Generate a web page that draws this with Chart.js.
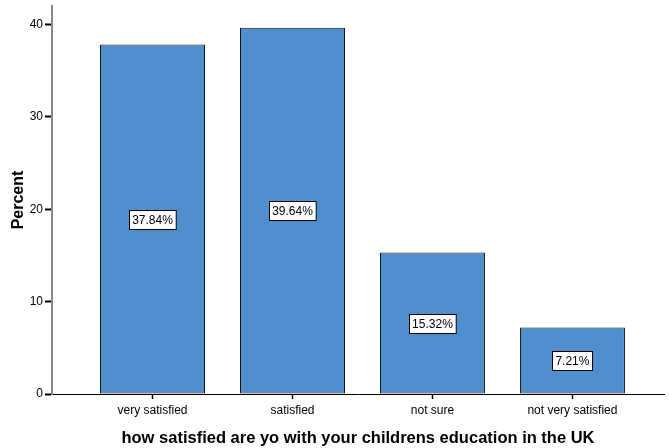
<!DOCTYPE html>
<html>
<head>
<meta charset="utf-8">
<script src="https://cdn.jsdelivr.net/npm/chart.js@4/dist/chart.umd.min.js"></script>
<style>
  html, body { margin: 0; padding: 0; background: #fff; }
  #wrap { width: 669px; height: 448px; }
</style>
</head>
<body>
<div id="wrap"><canvas id="chart"></canvas></div>
<script>
// satisfaction with childrens education — percent per answer
const categories = ['very satisfied', 'satisfied', 'not sure', 'not very satisfied'];
const percents = [37.84, 39.64, 15.32, 7.21];
const yTicks = [0, 10, 20, 30, 40];

const FONT = '"Liberation Sans", Arial, Helvetica, sans-serif';

// white boxed percent labels in the middle of each bar
const boxLabels = {
  id: 'boxLabels',
  afterDatasetsDraw(chart) {
    const ctx = chart.ctx;
    const meta = chart.getDatasetMeta(0);
    const y = chart.scales.y;
    ctx.save();
    ctx.font = '12px ' + FONT;
    ctx.textAlign = 'center';
    ctx.textBaseline = 'middle';
    meta.data.forEach((bar, i) => {
      const txt = percents[i].toFixed(2) + '%';
      const cx = bar.x;
      const cy = y.getPixelForValue(percents[i] / 2);
      const w = ctx.measureText(txt).width + 6;
      const h = 19;
      const left = Math.round(cx - w / 2) + 0.5;
      const top = Math.round(cy - h / 2) + 0.5;
      ctx.fillStyle = '#fff';
      ctx.fillRect(left, top, w, h);
      ctx.strokeStyle = '#000';
      ctx.lineWidth = 1;
      ctx.strokeRect(left, top, w, h);
      ctx.fillStyle = '#000';
      ctx.fillText(txt, cx, cy + 1);
    });
    ctx.restore();
  }
};

new Chart(document.getElementById('chart'), {
  type: 'bar',
  data: {
    datasets: [{
      data: percents.map((v, i) => ({ x: i, y: v })),
      backgroundColor: '#4f8fce',
      borderColor: '#111',
      borderWidth: 1,
      borderSkipped: false,
      categoryPercentage: 1,
      barPercentage: 0.75,
    }],
  },
  options: {
    responsive: true,
    maintainAspectRatio: false,
    animation: false,
    layout: { padding: { top: 6, right: 5, left: 0, bottom: 0 } },
    plugins: { legend: { display: false }, tooltip: { enabled: false } },
    scales: {
      x: {
        type: 'linear',
        offset: false,
        min: -0.718,
        max: 3.654,
        afterBuildTicks: (s) => { s.ticks = categories.map((c, i) => ({ value: i })); },
        afterFit: (s) => { s.height = 54; },
        ticks: {
          autoSkip: false,
          maxRotation: 0,
          padding: 4,
          color: '#000',
          font: { family: FONT, size: 12 },
          callback: (v) => categories[v],
        },
        grid: { offset: false, drawOnChartArea: false, tickLength: 5, color: '#000', tickWidth: 1.5 },
        border: { color: '#000', width: 1 },
        title: {
          display: true,
          text: 'how satisfied are yo with your childrens education in the UK',
          color: '#000',
          font: { family: FONT, size: 16.5, weight: 'bold' },
          padding: { top: 4, bottom: 0 },
        },
      },
      y: {
        min: 0,
        max: 42,
        afterBuildTicks: (s) => { s.ticks = yTicks.map(v => ({ value: v })); },
        afterFit: (s) => { s.width = 52; s.paddingTop = 0; },
        ticks: {
          padding: 2,
          color: '#000',
          font: { family: FONT, size: 12 },
        },
        grid: { drawOnChartArea: false, tickLength: 7, color: '#000', tickWidth: 2 },
        border: { color: '#888', width: 2 },
        title: {
          display: true,
          text: 'Percent',
          color: '#000',
          font: { family: FONT, size: 16, weight: 'bold' },
          padding: { top: 9, bottom: 0 },
        },
      },
    },
  },
  plugins: [boxLabels],
});
</script>
</body>
</html>
